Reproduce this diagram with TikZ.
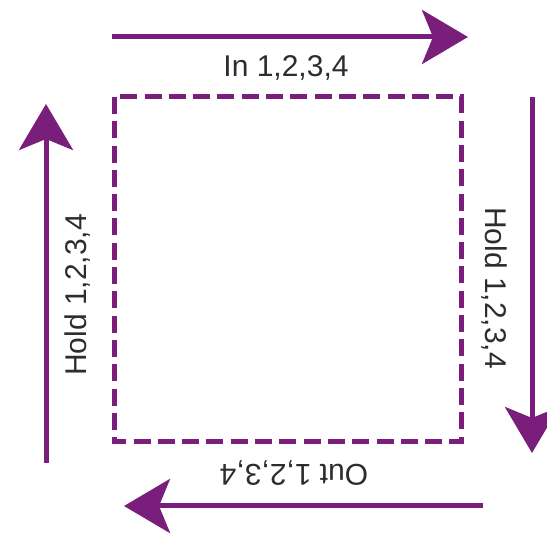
\documentclass[tikz,border=0pt]{standalone}
\usepackage{fontspec}
\setmainfont{Liberation Sans}
\usetikzlibrary{arrows.meta}
\definecolor{flowpurple}{RGB}{122,30,124}
\definecolor{labelgray}{RGB}{45,45,45}
\tikzset{
  flow/.style={draw=flowpurple, line width=5pt,
    -{Stealth[length=46pt,width=54pt,inset=11pt]}},
  region/.style={draw=flowpurple, line width=5pt, dash pattern=on 17pt off 7.3pt},
  lbl/.style={text=labelgray, font=\fontsize{30}{32}\selectfont, inner sep=0pt}
}
\begin{document}
\begin{tikzpicture}[x=1pt,y=-1pt]
\useasboundingbox (0,0) rectangle (547,534);
% dashed region
\draw[region] (114,97) rectangle (461,442);
% arrow end points
\coordinate (topS) at (112,37);
\coordinate (topE) at (468,37);
\coordinate (rightS) at (532,97);
\coordinate (rightE) at (532,453);
\coordinate (botS) at (483,506);
\coordinate (botE) at (124,506);
\coordinate (leftS) at (46,463);
\coordinate (leftE) at (46,104);
\draw[flow] (topS) -- (topE);
\draw[flow] (rightS) -- (rightE);
\draw[flow] (botS) -- (botE);
\draw[flow] (leftS) -- (leftE);
% labels
\node[lbl] (inl) at (286,68) {In 1,2,3,4};
\node[lbl, rotate=-90] (holdr) at (494,288) {Hold 1,2,3,4};
\node[lbl, rotate=180] (outl) at (294,473) {Out 1,2,3,4};
\node[lbl, rotate=90] (holdl) at (78,295) {Hold 1,2,3,4};
\end{tikzpicture}
\end{document}
